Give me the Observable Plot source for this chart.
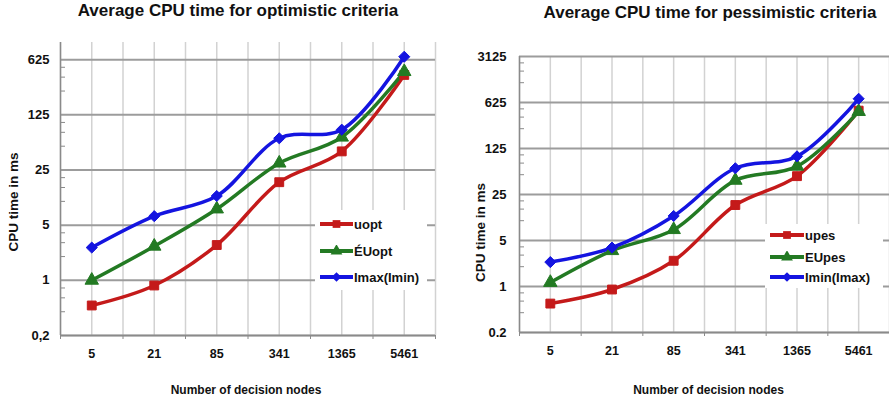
<!DOCTYPE html>
<html><head><meta charset="utf-8">
<script src="https://cdn.jsdelivr.net/npm/d3@7"></script>
<script src="https://cdn.jsdelivr.net/npm/@observablehq/plot@0.6"></script>
<style>
body{margin:0;background:#fff;font-family:"Liberation Sans",Arial,sans-serif;}
#wrap{position:relative;width:889px;height:403px;overflow:hidden;}
.panel{position:absolute;top:0;}
.title{position:absolute;font-weight:bold;font-size:17px;line-height:20px;color:#111;white-space:nowrap;transform:translateX(-50%);}
.legend{position:absolute;background:#fff;}
.legend .row{position:absolute;left:0;display:flex;align-items:center;height:16px;transform:translateY(-50%);font-weight:bold;font-size:13px;color:#111;white-space:nowrap;}
.legend svg{display:block;}
</style></head>
<body><div id="wrap"></div>
<script>
const categories = ["5", "21", "85", "341", "1365", "5461"];
const leftNames = ["uopt", "ÉUopt", "Imax(Imin)"];
const rightNames = ["upes", "EUpes", "Imin(Imax)"];
const uopt = [0.48, 0.86, 2.8, 17.5, 43, 400];
const EUopt = [1.0, 2.7, 8.0, 30.5, 65, 440];
const ImaxImin = [2.6, 6.5, 11.7, 63, 81, 680];
const upes = [0.55, 0.9, 2.46, 17.3, 47.5, 470];
const EUpes = [1.15, 3.5, 7.3, 41, 67, 455];
const IminImax = [2.35, 3.9, 11.8, 62.6, 95, 712];
const leftTicks = [0.2, 1, 5, 25, 125, 625];
const rightTicks = [0.2, 1, 5, 25, 125, 625, 3125];
const colors = ["#c41a1a", "#237a23", "#1414e0"];
const symbols = ["square", "triangle", "diamond2"];

const wrap = document.getElementById("wrap");
const FONT = '"Liberation Sans", Arial, sans-serif';

function rowsOf(names, arrays) {
  const rows = [];
  names.forEach((s, k) => arrays[k].forEach((v, i) => rows.push({s, i, v})));
  return rows;
}

function chart(o) {
  const n = categories.length;
  const idx = d3.range(n);
  const half = d3.range(-0.5, n, 0.5);
  const bounds = d3.range(-0.5, n, 1);
  const minors = [];
  for (let k = 0; k < o.ticks.length - 1; k++) for (const m of [2, 3, 4]) minors.push(o.ticks[k] * m);
  const plotW = o.w - o.ml - o.mr;
  const rows = rowsOf(o.names, o.data);
  return Plot.plot({
    width: o.w, height: 403,
    marginTop: o.mt, marginBottom: o.mb, marginLeft: o.ml, marginRight: o.mr,
    style: {fontFamily: FONT, background: "transparent", overflow: "visible"},
    x: {type: "linear", domain: [-0.5, n - 0.5]},
    y: {type: "log", domain: [0.2, o.yMax], axis: null},
    color: {domain: o.names, range: colors},
    symbol: {domain: o.names, range: symbols},
    marks: [
      Plot.ruleX(half, {x: d => d, stroke: "#d2d2d2", strokeWidth: 1.5}),
      Plot.ruleY(o.ticks, {y: d => d, stroke: "#9c9c9c", strokeWidth: 2}),
      Plot.tickY(minors, {y: d => d, stroke: "#8a8a8a", strokeWidth: 1, insetRight: plotW - 5}),
      Plot.ruleX([-0.5], {x: d => d, stroke: "#8a8a8a", strokeWidth: 1.5}),
      Plot.ruleY([0.2], {y: d => d, stroke: "#8a8a8a", strokeWidth: 1.5}),
      Plot.text(o.ticks, {y: d => d, text: o.fmt, frameAnchor: "left", textAnchor: "end", dx: -o.tp, fontSize: 13, fontWeight: "bold", fill: "#111"}),
      Plot.axisX({ticks: idx, tickSize: 0, tickPadding: 14, tickFormat: i => categories[i], fontSize: 12.5, fontWeight: "bold", fill: "#111", label: null}),
      Plot.axisX({ticks: bounds, tickSize: 4, stroke: "#8a8a8a", tickFormat: () => "", label: null}),
      Plot.line(rows, {x: "i", y: "v", z: "s", stroke: "s", strokeWidth: 3.5, curve: "catmull-rom"}),
      Plot.dot(rows, {x: "i", y: "v", fill: "s", symbol: "s", r: 5, stroke: "s", strokeWidth: 1}),
      Plot.text(["Number of decision nodes"], {frameAnchor: "bottom", textAnchor: "middle", lineAnchor: "middle", dy: o.xlDy, dx: o.xlDx, fontSize: 12, fontWeight: "bold", fill: "#111"}),
      Plot.text(["CPU time in ms"], {frameAnchor: "left", textAnchor: "middle", lineAnchor: "middle", rotate: -90, dx: o.ylDx, dy: o.ylDy, fontSize: 13.5, fontWeight: "bold", fill: "#111"})
    ]
  });
}

function legend(names, box, rowsY, swLeft, swW) {
  const div = document.createElement("div");
  div.className = "legend";
  Object.assign(div.style, {left: box[0] + "px", top: box[1] + "px", width: box[2] + "px", height: box[3] + "px"});
  names.forEach((name, k) => {
    const row = document.createElement("div");
    row.className = "row";
    row.style.top = rowsY[k] + "px";
    row.style.left = swLeft + "px";
    const svg = d3.create("svg").attr("width", swW).attr("height", 12).style("margin-right", "1px");
    svg.append("line").attr("x1", 0).attr("x2", swW).attr("y1", 6).attr("y2", 6).attr("stroke", colors[k]).attr("stroke-width", 4);
    const sym = [d3.symbolSquare, d3.symbolTriangle, d3.symbolDiamond2][k];
    svg.append("path").attr("d", d3.symbol(sym, 60)()).attr("transform", `translate(${swW / 2},6)`).attr("fill", colors[k]);
    row.appendChild(svg.node());
    const t = document.createElement("span");
    t.textContent = name;
    row.appendChild(t);
    div.appendChild(row);
  });
  return div;
}

const left = chart({w: 445, ml: 60, mr: 10, mt: 42, mb: 68, yMax: 1030, ticks: leftTicks, tp: 11,
  fmt: d => String(d).replace(".", ","), names: leftNames, data: [uopt, EUopt, ImaxImin],
  xlDy: 55, xlDx: -2, ylDx: -47, ylDy: 13});
const right = chart({w: 444, ml: 74, mr: 0, mt: 56, mb: 71, yMax: 3125, ticks: rightTicks, tp: 13,
  fmt: d => String(d), names: rightNames, data: [upes, EUpes, IminImax],
  xlDy: 58, xlDx: 4, ylDx: -39, ylDy: 38});

const p1 = document.createElement("div"); p1.className = "panel"; p1.style.left = "0px"; p1.appendChild(left);
const p2 = document.createElement("div"); p2.className = "panel"; p2.style.left = "445px"; p2.appendChild(right);
wrap.appendChild(p1); wrap.appendChild(p2);

const t1 = document.createElement("div"); t1.className = "title"; t1.style.left = "238px"; t1.style.top = "1px";
t1.textContent = "Average CPU time for optimistic criteria";
const t2 = document.createElement("div"); t2.className = "title"; t2.style.left = "710px"; t2.style.top = "3px";
t2.textContent = "Average CPU time for pessimistic criteria";
wrap.appendChild(t1); wrap.appendChild(t2);

wrap.appendChild(legend(leftNames, [315, 210, 112, 80], [14, 41, 67], 5, 33));
wrap.appendChild(legend(rightNames, [765, 224, 118, 64], [11, 33, 53], 5, 34));
</script></body></html>
